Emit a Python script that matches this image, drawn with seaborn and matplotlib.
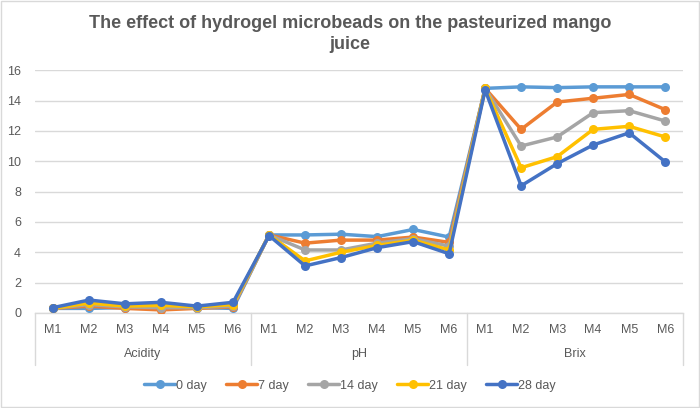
import matplotlib
matplotlib.use("Agg")
import matplotlib.pyplot as plt
import matplotlib.transforms as mtransforms
from matplotlib.lines import Line2D
import seaborn as sns
import pandas as pd

groups = ["Acidity", "pH", "Brix"]
samples = ["M1", "M2", "M3", "M4", "M5", "M6"]
series_names = ["0 day", "7 day", "14 day", "21 day", "28 day"]

day0 = [0.30, 0.30, 0.35, 0.30, 0.35, 0.30,
        5.14, 5.14, 5.19, 5.03, 5.50, 5.00,
        14.80, 14.90, 14.85, 14.90, 14.90, 14.90]
day7 = [0.30, 0.45, 0.30, 0.20, 0.30, 0.40,
        5.14, 4.60, 4.80, 4.80, 5.00, 4.65,
        14.80, 12.10, 13.90, 14.15, 14.40, 13.40]
day14 = [0.30, 0.55, 0.40, 0.35, 0.35, 0.45,
         5.14, 4.15, 4.15, 4.60, 4.90, 4.40,
         14.80, 11.00, 11.60, 13.20, 13.33, 12.65]
day21 = [0.30, 0.65, 0.45, 0.50, 0.40, 0.55,
         5.14, 3.43, 4.00, 4.45, 4.80, 4.15,
         14.80, 9.57, 10.30, 12.10, 12.30, 11.60]
day28 = [0.35, 0.85, 0.60, 0.70, 0.45, 0.70,
         5.10, 3.10, 3.65, 4.30, 4.70, 3.90,
         14.70, 8.38, 9.84, 11.07, 11.87, 9.96]

colors = ["#5B9BD5", "#ED7D31", "#A5A5A5", "#FFC000", "#4472C4"]
values = [day0, day7, day14, day21, day28]

rows = []
for name, vals in zip(series_names, values):
    k = 0
    for g in groups:
        for s in samples:
            rows.append({"idx": k, "group": g, "sample": s, "series": name, "value": vals[k]})
            k += 1
df = pd.DataFrame(rows)

sns.set_theme(style="white")
plt.rcParams["font.family"] = ["Liberation Sans", "DejaVu Sans"]

fig = plt.figure(figsize=(7.0, 4.08), dpi=100)
ax = fig.add_axes([0.05, 0.233, 0.926, 0.595])

palette = dict(zip(series_names, colors))
sns.lineplot(data=df, x="idx", y="value", hue="series", hue_order=series_names,
             palette=palette, marker="o", markersize=6.5, markeredgewidth=0,
             linewidth=2.5, ax=ax, legend=False, zorder=3)

n = len(groups) * len(samples)
ax.set_xlim(-0.5, n - 0.5)
ax.set_ylim(0, 16)
ax.set_yticks(range(0, 17, 2))
ax.yaxis.grid(True, color="#D9D9D9", linewidth=1)
ax.set_axisbelow(True)
ax.set_xlabel("")
ax.set_ylabel("")
ax.set_xticks(range(n))
ax.set_xticklabels(samples * len(groups))
ax.tick_params(axis="both", colors="#595959", labelsize=9, length=0)
ax.tick_params(axis="x", pad=8)
ax.tick_params(axis="y", pad=10)
for sp in ["left", "right", "top"]:
    ax.spines[sp].set_visible(False)
ax.spines["bottom"].set_color("#D9D9D9")
ax.spines["bottom"].set_linewidth(1)

trans = mtransforms.blended_transform_factory(ax.transData, ax.transAxes)
for gi in range(len(groups) + 1):
    xb = gi * len(samples) - 0.5
    ax.plot([xb, xb], [0, -0.215], transform=trans, color="#D9D9D9",
            linewidth=1, clip_on=False)
for gi, g in enumerate(groups):
    xc = gi * len(samples) + (len(samples) - 1) / 2
    ax.text(xc, -0.17, g, transform=trans, ha="center", va="center",
            fontsize=9, color="#595959")

fig.text(0.5, 0.917, "The effect of hydrogel microbeads on the pasteurized mango\njuice",
         ha="center", va="center", fontsize=13, fontweight="bold", color="#595959",
         linespacing=1.35)

handles = [Line2D([0], [0], color=c, linewidth=2.5, marker="o", markersize=6.5,
                  markeredgewidth=0) for c in colors]
leg = fig.legend(handles, series_names, loc="center", bbox_to_anchor=(0.5, 0.055),
                 ncol=5, frameon=False, fontsize=9, handlelength=2.5,
                 handletextpad=0.1, columnspacing=1.5)
for t in leg.get_texts():
    t.set_color("#595959")

border = plt.Rectangle((0.001, 0.002), 0.997, 0.995, transform=fig.transFigure,
                       fill=False, edgecolor="#D9D9D9", linewidth=1)
fig.patches.append(border)

fig.savefig("out.png", dpi=100)
